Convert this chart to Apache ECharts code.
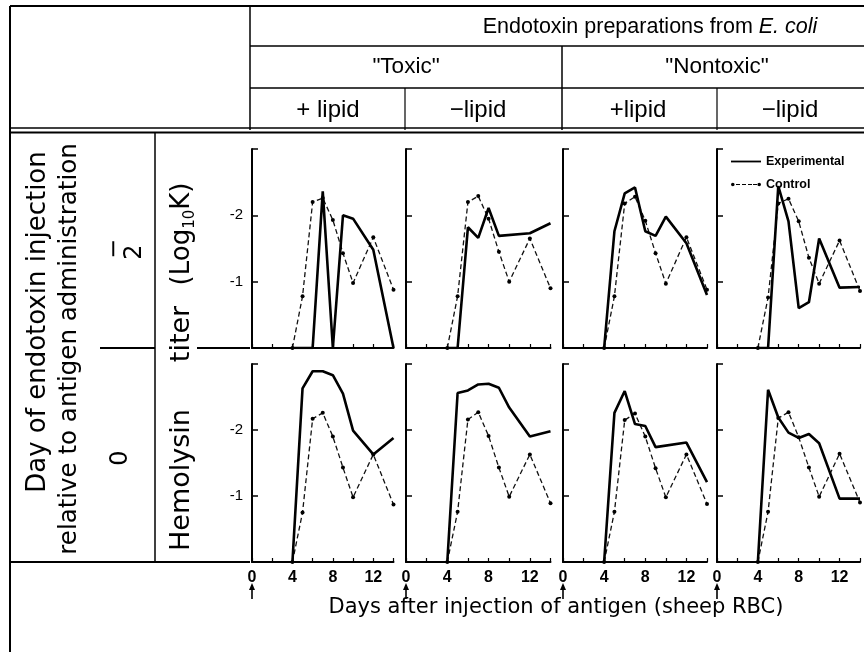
<!DOCTYPE html>
<html><head><meta charset="utf-8">
<script src="https://cdn.jsdelivr.net/npm/echarts@6/dist/echarts.min.js"></script>
<style>html,body{margin:0;padding:0;background:#fff}#c{width:864px;height:655px}</style>
</head><body><div id="c"></div>
<script>
// ---- data ----
const days = [4, 5, 6, 7, 8, 9, 10, 12, 14];
const xTickLabels = [0, 4, 8, 12];
const yTickLabels = [-2, -1];
const seriesNames = ['Experimental', 'Control'];
const columnGroups = ['"Toxic"', '"Nontoxic"'];
const columnLabels = ['+ lipid', '\u2212lipid', '+lipid', '\u2212lipid'];

// Day −2 row (log10 K)
const expToxicPlusD2    = [0, 0, 0, -2.36, 0, -2.00, -1.95, -1.48, 0];
const ctlToxicPlusD2    = [0, -0.78, -2.20, -2.26, -1.93, -1.43, -0.98, -1.67, -0.88];
const expToxicMinusD2   = [0, 0, -1.82, -1.66, -2.11, -1.69, null, -1.73, -1.88];
const ctlToxicMinusD2   = [0, -0.78, -2.20, -2.29, -1.95, -1.45, -1.00, -1.65, -0.90];
const expNontoxPlusD2   = [0, -1.76, -2.33, -2.42, -1.76, -1.69, -1.98, -1.58, -0.80];
const ctlNontoxPlusD2   = [0, -0.78, -2.18, -2.28, -1.92, -1.43, -0.97, -1.67, -0.88];
const expNontoxMinusD2  = [0, 0, -2.44, -1.91, -0.60, -0.69, -1.65, -0.91, -0.92];
const ctlNontoxMinusD2  = [0, -0.76, -2.18, -2.25, -1.91, -1.36, -0.97, -1.62, -0.86];
// Day 0 row
const expToxicPlusD0    = [0, -2.63, -2.89, -2.89, -2.83, -2.55, -1.99, -1.63, -1.88];
const ctlToxicPlusD0    = [0, -0.75, -2.17, -2.26, -1.90, -1.43, -0.98, -1.63, -0.87];
const expToxicMinusD0   = [0, -2.56, -2.60, -2.69, -2.70, -2.64, -2.34, -1.90, -1.98];
const ctlToxicMinusD0   = [0, -0.76, -2.16, -2.27, -1.91, -1.43, -0.99, -1.63, -0.89];
const expNontoxPlusD0   = [0, -2.26, -2.59, -2.09, -2.06, -1.74, null, -1.81, -1.21];
const ctlNontoxPlusD0   = [0, -0.76, -2.15, -2.25, -1.90, -1.42, -0.98, -1.63, -0.88];
const expNontoxMinusD0  = [0, -2.61, -2.19, -1.96, -1.88, -1.94, -1.80, -0.96, -0.96];
const ctlNontoxMinusD0  = [0, -0.76, -2.18, -2.27, -1.89, -1.43, -0.99, -1.64, -0.90];

const panels = [
  [expToxicPlusD2, ctlToxicPlusD2], [expToxicMinusD2, ctlToxicMinusD2],
  [expNontoxPlusD2, ctlNontoxPlusD2], [expNontoxMinusD2, ctlNontoxMinusD2],
  [expToxicPlusD0, ctlToxicPlusD0], [expToxicMinusD0, ctlToxicMinusD0],
  [expNontoxPlusD0, ctlNontoxPlusD0], [expNontoxMinusD0, ctlNontoxMinusD0]
];

// ---- layout ----
const FONT = 'Liberation Sans, Arial, sans-serif';
const WIDE = 'DejaVu Sans, Verdana, sans-serif';
const gridLefts = [252, 406, 563, 717];
const gridWidths = [141.5, 144.5, 144, 143];
const gridTops = [149, 364];
const gridHeights = [199, 198];

const grids = [], xAxes = [], yAxes = [], series = [];
panels.forEach((p, i) => {
  const row = Math.floor(i / 4), col = i % 4;
  grids.push({left: gridLefts[col], top: gridTops[row], width: gridWidths[col], height: gridHeights[row], containLabel: false});
  xAxes.push({
    gridIndex: i, type: 'value', min: 0, max: 14, interval: 2, position: 'bottom',
    axisLine: {onZero: false, lineStyle: {color: '#000', width: 2}},
    axisTick: {show: true, inside: true, length: 4, lineStyle: {color: '#000', width: 1.2}},
    splitLine: {show: false},
    axisLabel: {show: row === 1, color: '#000', fontFamily: FONT, fontSize: 16, fontWeight: 'bold', margin: 8,
      formatter: v => xTickLabels.includes(v) ? String(v) : ''}
  });
  yAxes.push({
    gridIndex: i, type: 'value', inverse: true, min: -3, max: 0, interval: 1, position: 'left',
    axisLine: {show: true, onZero: false, lineStyle: {color: '#000', width: 2}},
    axisTick: {show: true, inside: true, length: 6, lineStyle: {color: '#000', width: 1.5}},
    splitLine: {show: false},
    axisLabel: {show: col === 0, color: '#000', fontFamily: FONT, fontSize: 15, margin: 9,
      formatter: v => yTickLabels.includes(v) ? String(v) : ''}
  });
  const toData = arr => days.map((d, k) => [d, arr[k]]).filter(q => q[1] !== null);
  series.push({
    name: seriesNames[0], type: 'line', xAxisIndex: i, yAxisIndex: i, data: toData(p[0]),
    symbol: 'none', lineStyle: {color: '#000', width: 2.6}, itemStyle: {color: '#000'}, z: 3
  });
  series.push({
    name: seriesNames[1], type: 'line', xAxisIndex: i, yAxisIndex: i, data: toData(p[1]),
    symbol: 'circle', symbolSize: 4, lineStyle: {color: '#111', width: 1.3, type: [5, 3]},
    itemStyle: {color: '#000'}, z: 2
  });
});

function hline(x1, x2, y, w) { return {type: 'line', shape: {x1, y1: y, x2, y2: y}, style: {stroke: '#000', lineWidth: w}}; }
function vline(x, y1, y2, w) { return {type: 'line', shape: {x1: x, y1, x2: x, y2}, style: {stroke: '#000', lineWidth: w}}; }
function txt(x, y, text, size, fam, extra) {
  return Object.assign({type: 'text', x, y, style: Object.assign({text, fill: '#000', font: size + 'px ' + fam, align: 'center', verticalAlign: 'middle'}, (extra && extra.style) || {})}, (extra && extra.el) || {});
}
const ROT = {el: {rotation: Math.PI / 2}};

const graphics = [
  hline(10, 864, 6, 2), vline(10, 6, 652, 2),
  vline(250, 6, 130, 1.5), hline(250, 864, 46, 1.5), vline(562, 46, 130, 1.5),
  hline(250, 864, 88, 1.5), vline(405, 88, 130, 1.2), vline(717, 88, 130, 1.2),
  hline(10, 864, 128, 1.5), hline(10, 864, 132.5, 2),
  vline(155, 132, 562, 1.5), hline(100, 155, 348, 2), hline(197, 250, 348, 2),
  hline(10, 250, 562, 2),
  txt(650, 27, 'Endotoxin preparations from {i|E. coli}', 21.5, FONT, {style: {rich: {i: {fontStyle: 'italic', fontSize: 21.5, fontFamily: FONT}}}}),
  txt(406, 67, columnGroups[0], 22.5, FONT), txt(717, 67, columnGroups[1], 22.5, FONT),
  txt(328, 110, columnLabels[0], 24, FONT), txt(478, 110, columnLabels[1], 24, FONT),
  txt(638, 110, columnLabels[2], 24, FONT), txt(790, 110, columnLabels[3], 24, FONT),
  txt(38, 322, 'Day of endotoxin injection', 26, WIDE, ROT),
  txt(70, 349, 'relative to antigen administration', 24.5, WIDE, ROT),
  txt(115, 249, '\u2212', 24, WIDE, ROT),
  txt(135, 252, '2', 24, WIDE, ROT),
  txt(121, 458, '0', 24, WIDE, ROT),
  txt(182, 480, 'Hemolysin', 27, WIDE, ROT),
  txt(182, 334, 'titer', 27, WIDE, ROT),
  txt(182, 234, '(Log{s|10}K)', 26, WIDE, {el: {rotation: Math.PI / 2}, style: {rich: {s: {fontSize: 15, fontFamily: WIDE, verticalAlign: 'bottom', lineHeight: 32}}}}),
  txt(556, 608, 'Days after injection of antigen (sheep RBC)', 21, WIDE)
];

const iconExp = 'path://M0,0M30,10M0,4.1h30v1.8h-30z';
const iconCtl = 'path://M0,0M30,10M0,5a1.8,1.8 0 1,0 3.6,0a1.8,1.8 0 1,0 -3.6,0zM5,4.4h4v1.2h-4zM11,4.4h4v1.2h-4zM17,4.4h4v1.2h-4zM22,4.4h4v1.2h-4zM26.4,5a1.8,1.8 0 1,0 3.6,0a1.8,1.8 0 1,0 -3.6,0z';

const chart = echarts.init(document.getElementById('c'), null, {renderer: 'canvas'});
chart.setOption({
  animation: false,
  backgroundColor: '#fff',
  textStyle: {fontFamily: FONT},
  grid: grids, xAxis: xAxes, yAxis: yAxes, series,
  legend: {data: [{name: seriesNames[0], icon: iconExp}, {name: seriesNames[1], icon: iconCtl}],
    orient: 'vertical', left: 726, top: 150, itemWidth: 30, itemHeight: 10, itemGap: 10,
    itemStyle: {borderWidth: 0},
    textStyle: {fontSize: 12.5, fontWeight: 'bold', color: '#000', fontFamily: FONT}},
  graphic: graphics
});

// arrows under day 0 of each bottom panel, positioned through the x axes
const arrows = [];
for (let c = 0; c < 4; c++) {
  const px = chart.convertToPixel({xAxisIndex: 4 + c}, 0);
  arrows.push({type: 'line', shape: {x1: px, y1: 599, x2: px, y2: 588}, style: {stroke: '#000', lineWidth: 1.6}});
  arrows.push({type: 'polygon', shape: {points: [[px - 3, 590], [px + 3, 590], [px, 583]]}, style: {fill: '#000'}});
}
chart.setOption({graphic: graphics.concat(arrows)});
</script></body></html>
